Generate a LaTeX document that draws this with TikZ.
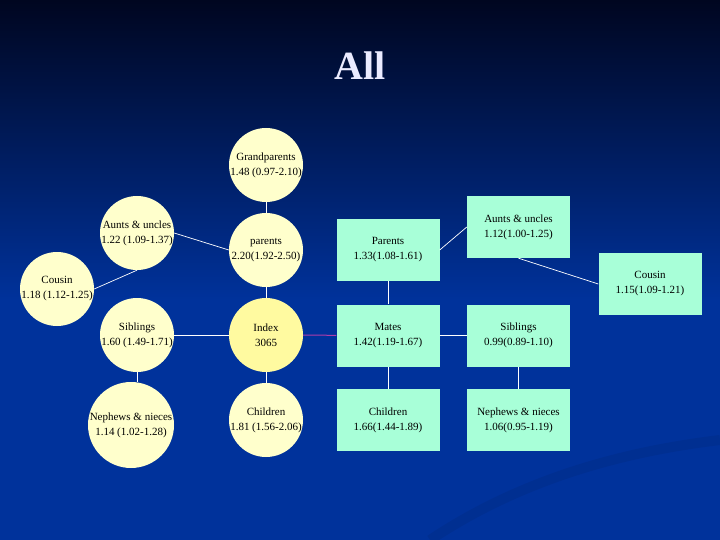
\documentclass[tikz,border=0pt]{standalone}
\usepackage{fontspec}
\setmainfont{Liberation Serif}
\usepackage{tikz}
\usepackage{color}
\definecolor{bgtop}{RGB}{0,6,32}
\definecolor{bgmid}{RGB}{0,36,118}
\definecolor{bgmain}{RGB}{0,50,155}
\definecolor{cream}{RGB}{255,255,204}
\definecolor{indexyellow}{RGB}{255,250,160}
\definecolor{mint}{RGB}{168,255,216}
\definecolor{plum}{RGB}{175,60,170}
\definecolor{titlecol}{RGB}{235,235,255}
\newcommand{\two}[2]{\makebox[0pt]{#1}\\\makebox[0pt]{#2}}

\begin{document}
\begin{tikzpicture}[x=1pt, y=-1pt,
	 bubble/.style={circle, fill=cream, minimum size=74pt, inner sep=0pt, align=center, font=\fontsize{11}{15}\selectfont},
	 card/.style={rectangle, fill=mint, minimum width=103pt, minimum height=62pt, inner sep=0pt, align=center, font=\fontsize{11}{15}\selectfont},
	 link/.style={draw=white, line width=0.7pt}]
	    \useasboundingbox (0,0) rectangle (720,540);
	    \fill[bgmain] (0,0) rectangle (720,540);
	    \shade[top color=bgtop, middle color=bgmid, bottom color=bgmain] (0,0) rectangle (720,300);
	    \draw[black, opacity=0.06, line width=10pt] (430,540) .. controls (520,480) and (620,452) .. (720,440);
	    \node (title) at (360,66) [font=\fontsize{40}{40}\selectfont\bfseries, text=titlecol] {All};
	    % circles
	    \node (gpar) at (266,165) [bubble] {\two{Grandparents}{1.48 (0.97-2.10)}};
	    \node (par) at (266,250) [bubble] {\two{parents}{2.20(1.92-2.50)}};
	    \node (aunt) at (137,233) [bubble] {\two{Aunts \& uncles}{1.22 (1.09-1.37)}};
	    \node (cous) at (57,289) [bubble] {\two{Cousin}{1.18 (1.12-1.25)}};
	    \node (sib) at (137,335) [bubble] {\two{Siblings}{1.60 (1.49-1.71)}};
	    \node (idx) at (266,335) [bubble, fill=indexyellow] {\two{Index}{3065}};
	    \node (neph) at (131,425) [bubble, minimum size=86pt] {\two{Nephews \& nieces}{1.14 (1.02-1.28)}};
	    \node (chil) at (266,420) [bubble] {\two{Children}{1.81 (1.56-2.06)}};
	    % boxes
	    \node (mpar) at (388,250) [card] {\two{Parents}{1.33(1.08-1.61)}};
	    \node (maunt) at (518.5,227) [card] {\two{Aunts \& uncles}{1.12(1.00-1.25)}};
	    \node (mcous) at (650,284) [card] {\two{Cousin}{1.15(1.09-1.21)}};
	    \node (mate) at (388,335.5) [card] {\two{Mates}{1.42(1.19-1.67)}};
	    \node (msib) at (518.5,335.5) [card] {\two{Siblings}{0.99(0.89-1.10)}};
	    \node (mchil) at (388,420) [card] {\two{Children}{1.66(1.44-1.89)}};
	    \node (mneph) at (518.5,420) [card] {\two{Nephews \& nieces}{1.06(0.95-1.19)}};
	    % links
	    \draw[link] (gpar) -- (par);
	    \draw[link] (par) -- (idx);
	    \draw[link] (idx) -- (chil);
	    \draw[link] (aunt.east) -- (par.west);
	    \draw[link] (cous.east) -- (aunt.south);
	    \draw[link] (sib) -- (idx);
	    \draw[link] (sib.south) -- (sib.south |- neph.north);
	    \draw[plum, line width=1pt] (idx) -- (mate);
	    \draw[link] (mpar.east) -- (maunt.west);
	    \draw[link] (maunt.south) -- (mcous.west);
	    \draw[link] (mpar) -- (mate);
	    \draw[link] (mate) -- (msib);
	    \draw[link] (mate) -- (mchil);
	    \draw[link] (msib) -- (mneph);
\end{tikzpicture}
\end{document}
